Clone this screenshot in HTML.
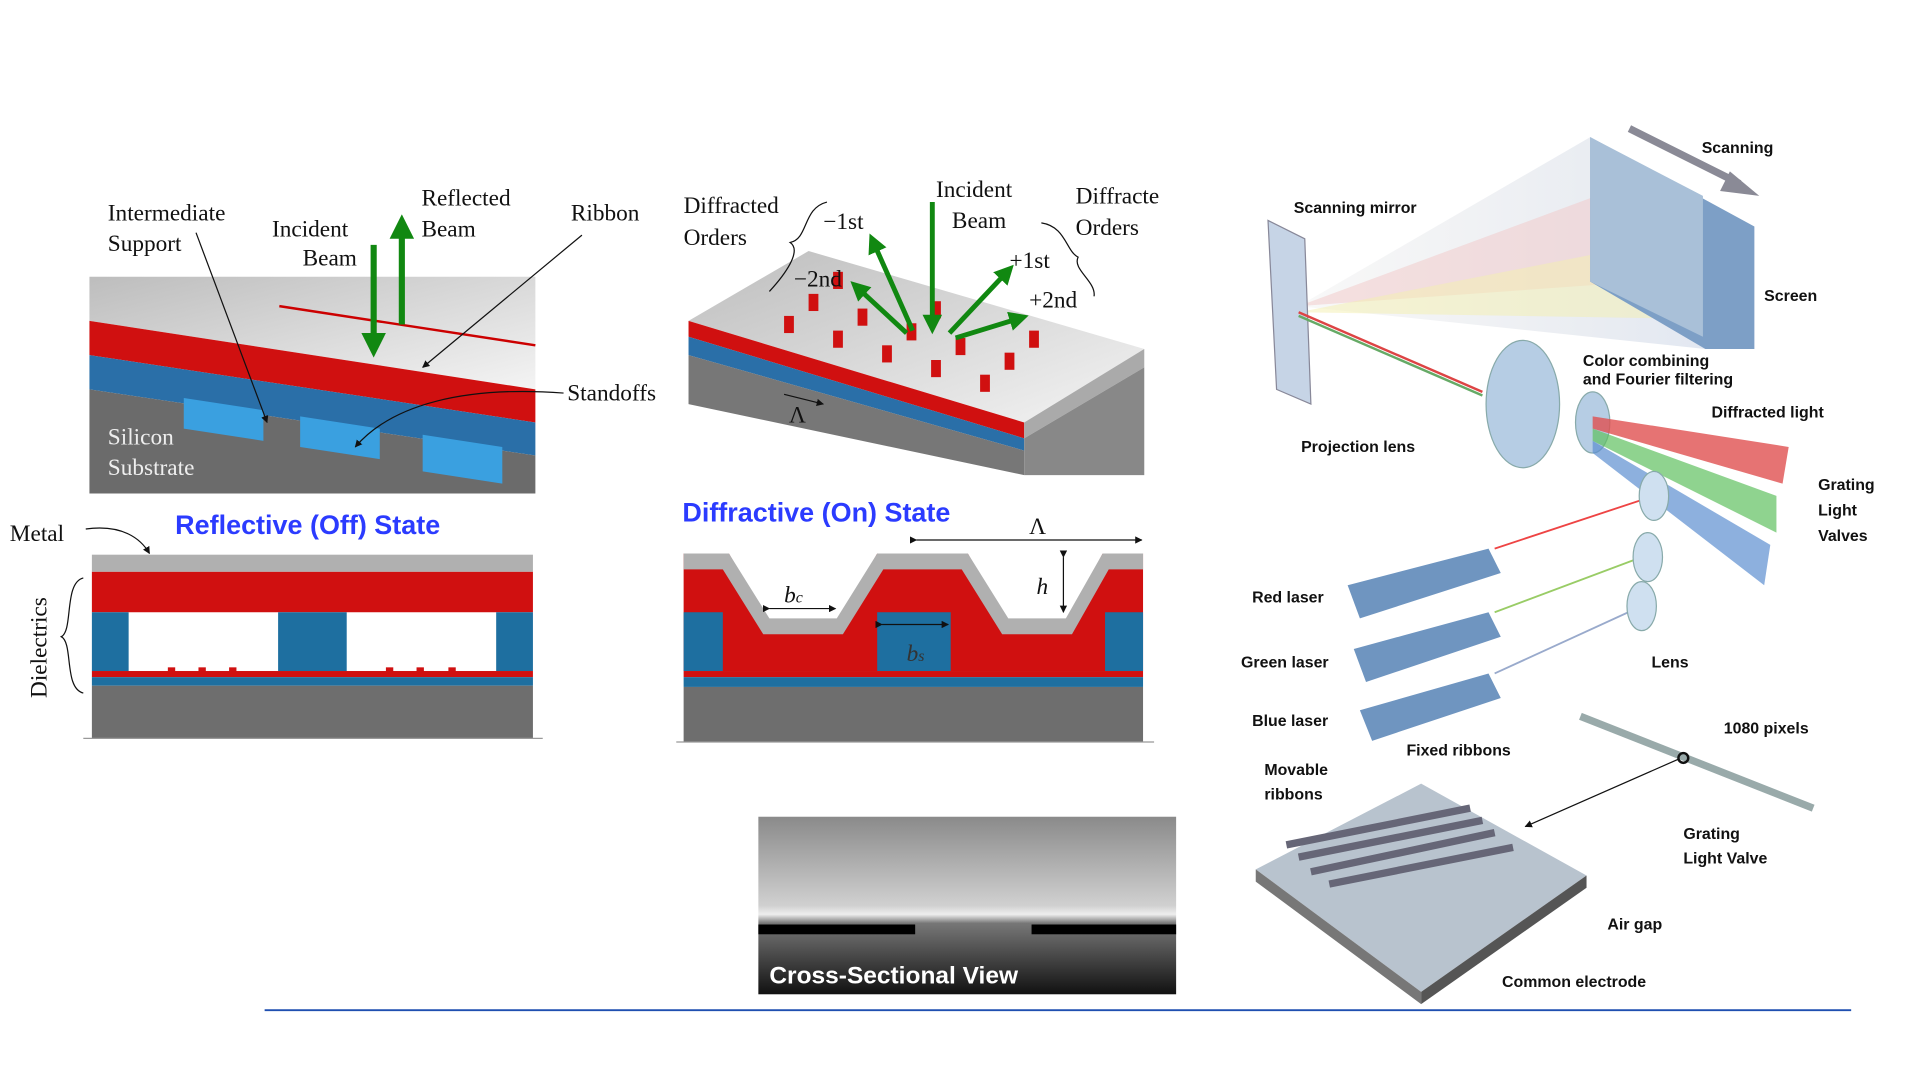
<!DOCTYPE html>
<html><head><meta charset="utf-8"><style>
html,body{margin:0;padding:0;background:#fff;}
svg{display:block;}
.s{font-family:"Liberation Serif",serif;font-size:19px;fill:#111;}
.a{font-family:"Liberation Sans",sans-serif;font-size:13px;fill:#111;font-weight:bold;}
.t{font-family:"Liberation Sans",sans-serif;font-size:22px;fill:#2b3bff;font-weight:bold;}
</style></head><body>
<svg width="1921" height="1080" viewBox="0 0 1568 882" preserveAspectRatio="none" xmlns="http://www.w3.org/2000/svg">
<defs>
<linearGradient id="gtop" x1="0" y1="0" x2="1" y2="1"><stop offset="0" stop-color="#bdbdbd"/><stop offset="1" stop-color="#f4f4f4"/></linearGradient>
<linearGradient id="sem" x1="0" y1="0" x2="0" y2="1"><stop offset="0" stop-color="#8a8a8a"/><stop offset="0.5" stop-color="#d0d0d0"/><stop offset="0.55" stop-color="#eee"/><stop offset="0.6" stop-color="#777"/><stop offset="1" stop-color="#111"/></linearGradient>
<linearGradient id="beam" x1="0" y1="0" x2="1" y2="0"><stop offset="0" stop-color="#ddd" stop-opacity="0.2"/><stop offset="1" stop-color="#cfd8e8" stop-opacity="0.6"/></linearGradient>
<marker id="ga" viewBox="0 0 10 10" refX="5" refY="5" markerWidth="4" markerHeight="4" orient="auto"><path d="M0,0L10,5L0,10z" fill="#118811"/></marker>
<marker id="ka" viewBox="0 0 10 10" refX="9" refY="5" markerWidth="6" markerHeight="6" orient="auto"><path d="M0,0L10,5L0,10z" fill="#111"/></marker>
</defs>

<g>
<polygon points="73,226 437,226 437,318 73,262" fill="url(#gtop)"/>
<polygon points="73,262 437,318 437,345 73,290" fill="#d01010"/>
<polygon points="73,290 437,345 437,372 73,318" fill="#2a6fa8"/>
<polygon points="73,318 437,372 437,403 73,403" fill="#6b6b6b"/>
<polygon points="150,325 215,335 215,360 150,350" fill="#3aa0e0"/>
<polygon points="245,340 310,350 310,375 245,365" fill="#3aa0e0"/>
<polygon points="345,355 410,365 410,395 345,385" fill="#3aa0e0"/>
<line x1="228" y1="250" x2="437" y2="282" stroke="#c00" stroke-width="2"/>
<line x1="305" y1="200" x2="305" y2="282" stroke="#118811" stroke-width="5" marker-end="url(#ga)"/>
<line x1="328" y1="265" x2="328" y2="185" stroke="#118811" stroke-width="5" marker-end="url(#ga)"/>
<line x1="160" y1="190" x2="218" y2="345" stroke="#111" marker-end="url(#ka)"/>
<line x1="475" y1="192" x2="345" y2="300" stroke="#111" marker-end="url(#ka)"/>
<path d="M460,321 C380,315 320,330 290,365" fill="none" stroke="#111" marker-end="url(#ka)"/>
<text class="s" x="88" y="180">Intermediate</text><text class="s" x="88" y="205">Support</text>
<text class="s" x="222" y="193">Incident</text><text class="s" x="247" y="217">Beam</text>
<text class="s" x="344" y="168">Reflected</text><text class="s" x="344" y="193">Beam</text>
<text class="s" x="466" y="180">Ribbon</text>
<text class="s" x="463" y="327">Standoffs</text>
<text class="s" x="88" y="363" style="fill:#eee">Silicon</text><text class="s" x="88" y="388" style="fill:#eee">Substrate</text>
</g>
<text class="t" x="143" y="436">Reflective (Off) State</text>

<g>
<text class="s" x="8" y="442">Metal</text>
<path d="M70,432 C100,428 115,440 122,452" fill="none" stroke="#111" marker-end="url(#ka)"/>
<text class="s" transform="translate(38,570) rotate(-90)">Dielectrics</text>
<path d="M68,472 C52,476 60,515 50,520 C60,525 52,562 68,566" fill="none" stroke="#111"/>
<rect x="75" y="453" width="360" height="14" fill="#b0b0b0"/>
<rect x="75" y="467" width="360" height="33" fill="#d01010"/>
<rect x="75" y="500" width="30" height="48" fill="#1e6fa0"/>
<rect x="227" y="500" width="56" height="48" fill="#1e6fa0"/>
<rect x="405" y="500" width="30" height="48" fill="#1e6fa0"/>
<rect x="75" y="548" width="360" height="5" fill="#d01010"/>
<rect x="137" y="545" width="6" height="5" fill="#d01010"/><rect x="162" y="545" width="6" height="5" fill="#d01010"/><rect x="187" y="545" width="6" height="5" fill="#d01010"/>
<rect x="315" y="545" width="6" height="5" fill="#d01010"/><rect x="340" y="545" width="6" height="5" fill="#d01010"/><rect x="366" y="545" width="6" height="5" fill="#d01010"/>
<rect x="75" y="553" width="360" height="7" fill="#1e6fa0"/>
<rect x="75" y="560" width="360" height="43" fill="#6e6e6e"/>
<line x1="68" y1="603" x2="443" y2="603" stroke="#999"/>
</g>

<g>
<polygon points="562,262 660,205 934,285 836,345" fill="url(#gtop)"/>
<polygon points="562,262 836,345 836,358 562,275" fill="#d01010"/>
<polygon points="836,345 934,285 934,300 836,358" fill="#aaa"/>
<polygon points="562,275 836,358 836,368 562,290" fill="#2a6fa8"/>
<polygon points="562,290 836,368 836,388 562,330" fill="#777"/>
<polygon points="836,358 934,300 934,388 836,388" fill="#888"/>
<g fill="#d01010">
<rect x="640" y="258" width="8" height="14"/><rect x="680" y="270" width="8" height="14"/><rect x="720" y="282" width="8" height="14"/><rect x="760" y="294" width="8" height="14"/><rect x="800" y="306" width="8" height="14"/>
<rect x="660" y="240" width="8" height="14"/><rect x="700" y="252" width="8" height="14"/><rect x="740" y="264" width="8" height="14"/><rect x="780" y="276" width="8" height="14"/><rect x="820" y="288" width="8" height="14"/>
<rect x="680" y="222" width="8" height="14"/><rect x="760" y="246" width="8" height="14"/><rect x="840" y="270" width="8" height="14"/>
</g>
<line x1="761" y1="165" x2="761" y2="265" stroke="#118811" stroke-width="4" marker-end="url(#ga)"/>
<line x1="745" y1="270" x2="713" y2="198" stroke="#118811" stroke-width="4" marker-end="url(#ga)"/>
<line x1="740" y1="272" x2="700" y2="235" stroke="#118811" stroke-width="4" marker-end="url(#ga)"/>
<line x1="775" y1="272" x2="822" y2="222" stroke="#118811" stroke-width="4" marker-end="url(#ga)"/>
<line x1="780" y1="276" x2="832" y2="260" stroke="#118811" stroke-width="4" marker-end="url(#ga)"/>
<line x1="640" y1="322" x2="672" y2="330" stroke="#111" marker-end="url(#ka)"/>
<text class="s" x="644" y="345">Λ</text>
<text class="s" x="558" y="174">Diffracted</text><text class="s" x="558" y="200">Orders</text>
<path d="M675,165 C655,170 660,195 645,198 C655,205 640,225 628,238" fill="none" stroke="#111"/>
<text class="s" x="672" y="187">−1st</text><text class="s" x="648" y="234">−2nd</text>
<text class="s" x="764" y="161">Incident</text><text class="s" x="777" y="186">Beam</text>
<text class="s" x="878" y="166">Diffracte</text><text class="s" x="878" y="192">Orders</text>
<path d="M850,182 C870,185 870,205 880,210 C875,220 895,230 893,242" fill="none" stroke="#111"/>
<text class="s" x="824" y="219">+1st</text><text class="s" x="840" y="251">+2nd</text>
</g>
<text class="t" x="557" y="426">Diffractive (On) State</text>

<g>
<line x1="748" y1="441" x2="932" y2="441" stroke="#111" marker-start="url(#ka)" marker-end="url(#ka)"/>
<text class="s" x="840" y="436">Λ</text>
<polygon points="558,452 595,452 628,510 683,510 716,452 790,452 823,510 870,510 900,452 933,452 933,548 558,548" fill="#d01010"/>
<polygon points="558,452 595,452 628,505 683,505 716,452 790,452 823,505 870,505 900,452 933,452 933,465 905,465 875,518 818,518 785,465 721,465 688,518 623,518 590,465 558,465" fill="#b0b0b0"/>
<rect x="558" y="500" width="32" height="48" fill="#1e6fa0"/>
<rect x="716" y="500" width="60" height="48" fill="#1e6fa0"/>
<rect x="902" y="500" width="31" height="48" fill="#1e6fa0"/>
<rect x="558" y="548" width="375" height="5" fill="#d01010"/>
<rect x="558" y="553" width="375" height="8" fill="#1e6fa0"/>
<rect x="558" y="561" width="375" height="45" fill="#6e6e6e"/>
<line x1="628" y1="497" x2="682" y2="497" stroke="#111" marker-start="url(#ka)" marker-end="url(#ka)"/>
<text class="s" x="640" y="492" style="font-style:italic">b<tspan font-size="13">c</tspan></text>
<line x1="720" y1="510" x2="774" y2="510" stroke="#111" marker-start="url(#ka)" marker-end="url(#ka)"/>
<text class="s" x="740" y="540" style="font-style:italic;fill:#333">b<tspan font-size="13">s</tspan></text>
<line x1="868" y1="455" x2="868" y2="500" stroke="#111" marker-start="url(#ka)" marker-end="url(#ka)"/>
<text class="s" x="846" y="485" style="font-style:italic">h</text>
<line x1="552" y1="606" x2="942" y2="606" stroke="#999"/>
</g>

<g>
<rect x="619" y="667" width="341" height="145" fill="url(#sem)"/>
<rect x="619" y="755" width="128" height="8" fill="#000"/>
<rect x="842" y="755" width="118" height="8" fill="#000"/>
<text x="628" y="803" font-family="Liberation Sans,sans-serif" font-size="20" font-weight="bold" fill="#fff">Cross-Sectional View</text>
</g>

<line x1="216" y1="825" x2="1511" y2="825" stroke="#1f4fb0" stroke-width="1.5"/>

<g>
<polygon points="1060,250 1298,112 1392,285" fill="url(#beam)"/>
<polygon points="1060,250 1330,150 1340,230" fill="#f2c8c8" opacity="0.5"/>
<polygon points="1060,255 1340,200 1360,260" fill="#f4f0b0" opacity="0.5"/>
<polygon points="1298,112 1432,185 1432,285 1392,285 1298,230" fill="#7d9fc6"/>
<polygon points="1298,112 1390,160 1390,275 1298,230" fill="#a9c0d8"/>
<line x1="1330" y1="105" x2="1420" y2="150" stroke="#8a8a96" stroke-width="6"/>
<polygon points="1436,160 1412,140 1404,156" fill="#8a8a96"/>
<polygon points="1035,180 1065,195 1070,330 1042,318" fill="#c6d4e6" stroke="#889"/>
<line x1="1060" y1="255" x2="1210" y2="320" stroke="#d44" stroke-width="2"/>
<line x1="1060" y1="258" x2="1210" y2="323" stroke="#6a6" stroke-width="2"/>
<ellipse cx="1243" cy="330" rx="30" ry="52" fill="#b6cde4" stroke="#8aa"/>
<ellipse cx="1300" cy="345" rx="14" ry="25" fill="#b6cde4" stroke="#8aa"/>
<polygon points="1300,340 1460,365 1455,395 1300,350" fill="#e05050" opacity="0.8"/>
<polygon points="1300,350 1450,405 1450,435 1300,360" fill="#60c060" opacity="0.7"/>
<polygon points="1300,360 1445,445 1440,478 1300,370" fill="#5c8fd0" opacity="0.7"/>
<line x1="1220" y1="448" x2="1350" y2="405" stroke="#e44" stroke-width="1.5"/>
<line x1="1220" y1="500" x2="1340" y2="455" stroke="#9c6" stroke-width="1.5"/>
<line x1="1220" y1="550" x2="1340" y2="495" stroke="#9ac" stroke-width="1.5"/>
<polygon points="1100,478 1215,448 1225,468 1110,505" fill="#6f95c0"/>
<polygon points="1105,530 1215,500 1225,520 1115,557" fill="#6f95c0"/>
<polygon points="1110,580 1215,550 1225,570 1120,605" fill="#6f95c0"/>
<ellipse cx="1350" cy="405" rx="12" ry="20" fill="#cfe0f0" stroke="#8aa"/>
<ellipse cx="1345" cy="455" rx="12" ry="20" fill="#cfe0f0" stroke="#8aa"/>
<ellipse cx="1340" cy="495" rx="12" ry="20" fill="#cfe0f0" stroke="#8aa"/>
<polygon points="1025,710 1160,640 1295,715 1160,810" fill="#b8c3ce"/>
<polygon points="1025,710 1160,810 1160,820 1025,720" fill="#777"/>
<polygon points="1160,810 1295,715 1295,725 1160,820" fill="#555"/>
<path d="M1050,690 L1200,660 M1060,700 L1210,670 M1070,712 L1220,680 M1085,722 L1235,692" stroke="#667" stroke-width="6" fill="none"/>
<line x1="1290" y1="585" x2="1480" y2="660" stroke="#9aa" stroke-width="6"/>
<circle cx="1374" cy="619" r="4" fill="none" stroke="#111" stroke-width="2"/>
<line x1="1370" y1="620" x2="1245" y2="675" stroke="#111" marker-end="url(#ka)"/>
<text class="a" x="1389" y="125">Scanning</text>
<text class="a" x="1056" y="174">Scanning mirror</text>
<text class="a" x="1440" y="246">Screen</text>
<text class="a" x="1292" y="299">Color combining</text><text class="a" x="1292" y="314">and Fourier filtering</text>
<text class="a" x="1397" y="341">Diffracted light</text>
<text class="a" x="1062" y="369">Projection lens</text>
<text class="a" x="1484" y="400">Grating</text><text class="a" x="1484" y="421">Light</text><text class="a" x="1484" y="442">Valves</text>
<text class="a" x="1022" y="492">Red laser</text>
<text class="a" x="1013" y="545">Green laser</text>
<text class="a" x="1348" y="545">Lens</text>
<text class="a" x="1022" y="593">Blue laser</text>
<text class="a" x="1407" y="599">1080 pixels</text>
<text class="a" x="1148" y="617">Fixed ribbons</text>
<text class="a" x="1032" y="633">Movable</text><text class="a" x="1032" y="653">ribbons</text>
<text class="a" x="1374" y="685">Grating</text><text class="a" x="1374" y="705">Light Valve</text>
<text class="a" x="1312" y="759">Air gap</text>
<text class="a" x="1226" y="806">Common electrode</text>
</g>
</svg>
</body></html>
